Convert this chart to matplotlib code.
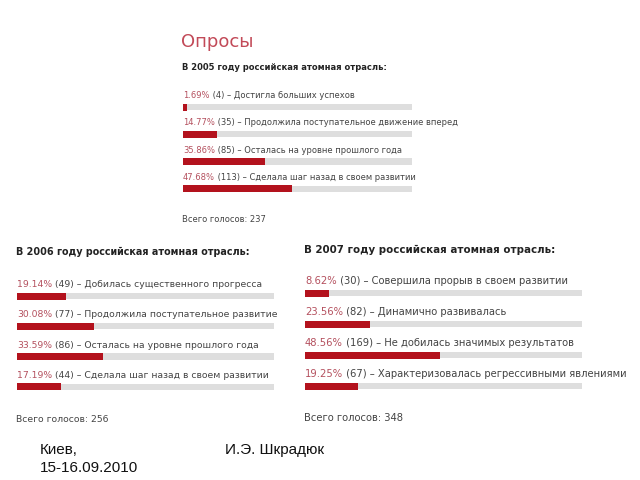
import matplotlib
matplotlib.use("Agg")
import matplotlib.pyplot as plt

# poll data
years = ["2005", "2006", "2007"]
pct_2005 = [1.69, 14.77, 35.86, 47.68]
cnt_2005 = [4, 35, 85, 113]
txt_2005 = ["Достигла больших успехов",
            "Продолжила поступательное движение вперед",
            "Осталась на уровне прошлого года",
            "Сделала шаг назад в своем развитии"]
pct_2006 = [19.14, 30.08, 33.59, 17.19]
cnt_2006 = [49, 77, 86, 44]
txt_2006 = ["Добилась существенного прогресса",
            "Продолжила поступательное развитие",
            "Осталась на уровне прошлого года",
            "Сделала шаг назад в своем развитии"]
pct_2007 = [8.62, 23.56, 48.56, 19.25]
cnt_2007 = [30, 82, 169, 67]
txt_2007 = ["Совершила прорыв в своем развитии",
            "Динамично развивалась",
            "Не добилась значимых результатов",
            "Характеризовалась регрессивными явлениями"]
totals = [237, 256, 348]

RED = "#b3121d"
GREY = "#dedede"
PCT_COL = "#b4505e"
TXT_COL = "#444444"

W, H = 640, 480
fig = plt.figure(figsize=(6.4, 4.8), dpi=100)
fig.patch.set_facecolor("white")

def fx(px):
    return px / W

def fy(px):
    return 1 - px / H

# layout of each panel in pixels: x0, x1, first bar y, spacing, heading y, total y,
# label font size, heading font size
panels = [
    (183, 412, 107, 27.3, 68, 219, 6.0, 6.0, pct_2005, cnt_2005, txt_2005),
    (17, 274, 296, 30.3, 252, 419, 6.7, 6.9, pct_2006, cnt_2006, txt_2006),
    (305, 582, 293, 31.0, 250, 418, 7.2, 7.35, pct_2007, cnt_2007, txt_2007),
]

fig.text(fx(181), fy(42), "Опросы", fontsize=13, color="#c24a58",
         va="center", ha="left", family="DejaVu Sans")

for year, total, (x0, x1, b0, sp, hy, ty, fs, hfs, pct, cnt, txt) in zip(years, totals, panels):
    top = b0 - sp / 2
    bot = b0 + 3.5 * sp
    ax = fig.add_axes([fx(x0), fy(bot), (x1 - x0) / W, (bot - top) / H])
    ax.set_xlim(0, 100)
    ax.set_ylim(3.5, -0.5)
    ax.axis("off")
    ys = list(range(len(pct)))
    bh = 7 / sp
    ax.barh(ys, [100] * len(pct), height=bh * 0.9, color=GREY)
    ax.barh(ys, pct, height=bh, color=RED)
    for i in ys:
        yl = i - 9 / sp
        t = ax.text(0, yl, "%.2f%%" % pct[i], fontsize=fs, color=PCT_COL,
                    va="baseline", ha="left", clip_on=False)
        ax.annotate(" (%d) – %s" % (cnt[i], txt[i]), xycoords=t,
                    xy=(1, 0), va="bottom", ha="left", fontsize=fs,
                    color=TXT_COL, annotation_clip=False)
    fig.text(fx(x0 - 1), fy(hy), "В %s году российская атомная отрасль:" % year,
             fontsize=hfs, fontweight="bold", color="#222222", va="center", ha="left")
    fig.text(fx(x0 - 1), fy(ty), "Всего голосов: %d" % total,
             fontsize=fs, color=TXT_COL, va="center", ha="left")

fig.text(fx(40), fy(450), "Киев,", fontsize=11, family="Liberation Sans",
         va="center", ha="left", color="#111111")
fig.text(fx(40), fy(468), "15-16.09.2010", fontsize=11, family="Liberation Sans",
         va="center", ha="left", color="#111111")
fig.text(fx(225), fy(450), "И.Э. Шкрадюк", fontsize=11, family="Liberation Sans",
         va="center", ha="left", color="#111111")

fig.savefig("out.png", dpi=100)
